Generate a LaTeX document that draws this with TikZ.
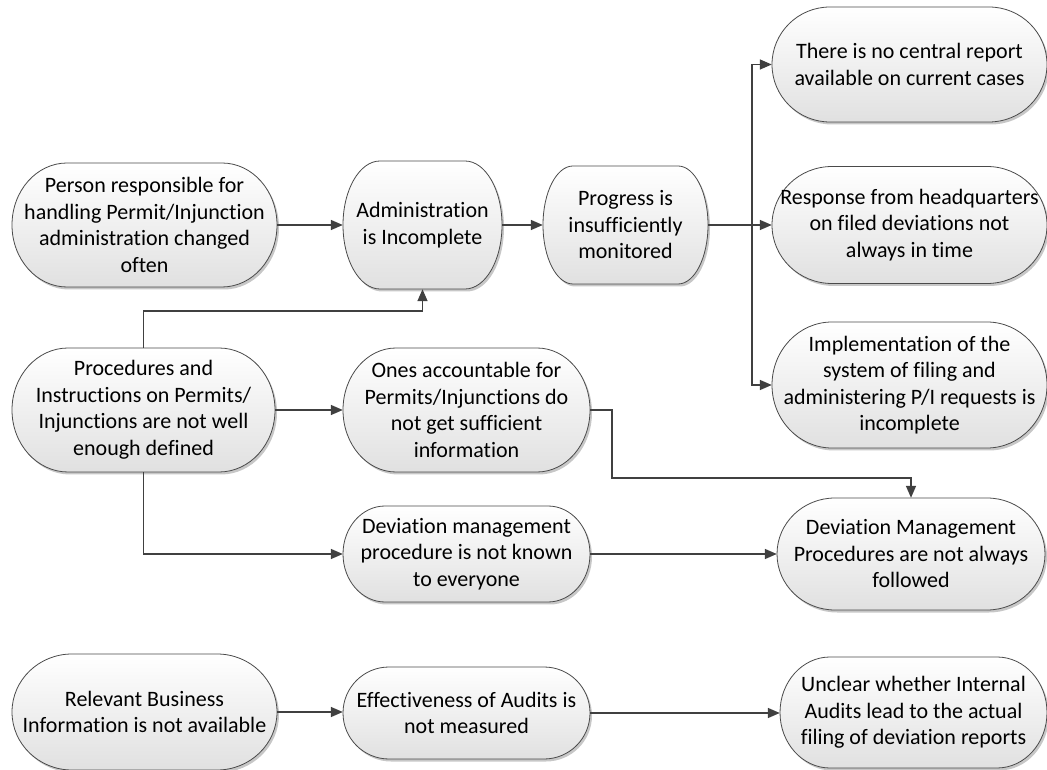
\documentclass[tikz,border=0pt]{standalone}
\usepackage{fontspec}
\setmainfont{Carlito}[Ligatures={NoCommon,NoContextual}]
\usetikzlibrary{arrows.meta,calc}
\definecolor{linec}{HTML}{404040}
\definecolor{edgec}{HTML}{4A4A4A}
\tikzset{
  conn/.style={draw=linec, line width=1.5pt, -{Triangle[length=12pt,width=10pt]}},
  termtext/.style={inner sep=0pt, align=center, font=\fontsize{22}{26.5}\selectfont, text=black},
  termfill/.style={top color=white, bottom color=black!12, draw=edgec, line width=0.8pt},
  termshadow/.style={fill=black!22},
}
\newcommand\termnode[7]{%
  \fill[termshadow,shift={(2,-2.5)}] ({#2-#4/2+#6},{#3+#5/2}) -- ({#2+#4/2-#6},{#3+#5/2})
     arc[start angle=90,end angle=-90,x radius=#6pt,y radius={#5/2*1pt}]
     -- ({#2-#4/2+#6},{#3-#5/2})
     arc[start angle=270,end angle=90,x radius=#6pt,y radius={#5/2*1pt}] -- cycle;
  \path[termfill] ({#2-#4/2+#6},{#3+#5/2}) -- ({#2+#4/2-#6},{#3+#5/2})
     arc[start angle=90,end angle=-90,x radius=#6pt,y radius={#5/2*1pt}]
     -- ({#2-#4/2+#6},{#3-#5/2})
     arc[start angle=270,end angle=90,x radius=#6pt,y radius={#5/2*1pt}] -- cycle;
  \node[termtext,minimum width=#4pt,minimum height=#5pt] (#1) at (#2,#3) {#7};
}
\begin{document}
\begin{tikzpicture}[x=1pt,y=1pt]
\useasboundingbox (0,0) rectangle (1047,769);

\termnode{A}{144.5}{544}{265}{124}{55}{Person responsible for\\handling Permit/Injunction\\administration changed\\often}
\termnode{B}{422.5}{544}{159}{128}{37}{Administration\\is Incomplete}
\termnode{C}{625.5}{544}{165}{118}{30}{Progress is\\insufficiently\\monitored}
\termnode{D}{909.5}{704.5}{275}{115}{58}{There is no central report\\available on current cases}
\termnode{E}{909.5}{544}{275}{117}{60}{Response from headquarters\\on filed deviations not\\always in time}
\termnode{F}{909.5}{384}{275}{126}{60}{Implementation of the\\system of filing and\\administering P/I requests is\\incomplete}
\termnode{G}{143.5}{359}{263}{124}{56}{Procedures and\\Instructions on Permits/\\Injunctions are not well\\enough defined}
\termnode{H}{466.5}{359}{247}{124}{53}{Ones accountable for\\Permits/Injunctions do\\not get sufficient\\information}
\termnode{I}{466.5}{215}{247}{96}{42}{Deviation management\\procedure is not known\\to everyone}
\termnode{J}{911}{215}{268}{112}{58}{Deviation Management\\Procedures are not always\\followed}
\termnode{K}{144.5}{57}{265}{116}{60}{Relevant Business\\Information is not available}
\termnode{L}{466.5}{56}{247}{92}{46}{Effectiveness of Audits is\\not measured}
\termnode{M}{913.5}{56.5}{267}{111}{50}{Unclear whether Internal\\Audits lead to the actual\\filing of deviation reports}

\coordinate (bus) at (752,544);
\coordinate (gb) at (143.5,458);
\coordinate (hj) at (612,291);

\draw[conn] (A.east) -- (A.east -| B.west);
\draw[conn] (B.east) -- (B.east -| C.west);
\draw[conn] (C.east) -- (C.east -| bus) |- (D.west);
\draw[conn] (C.east) -- (C.east -| bus) |- (E.west);
\draw[conn] (C.east) -- (C.east -| bus) |- (F.west);
\draw[conn] (G.north) -- (gb) -| (B.south);
\draw[conn] (G.east) -- (G.east -| H.west);
\draw[conn] (H.east) -| (hj) -| (J.north);
\draw[conn] (G.south) |- (I.west);
\draw[conn] (I.east) -- (I.east -| J.west);
\draw[conn] (K.east) -- (K.east -| L.west);
\draw[conn] (L.east) -- (L.east -| M.west);
\end{tikzpicture}
\end{document}
